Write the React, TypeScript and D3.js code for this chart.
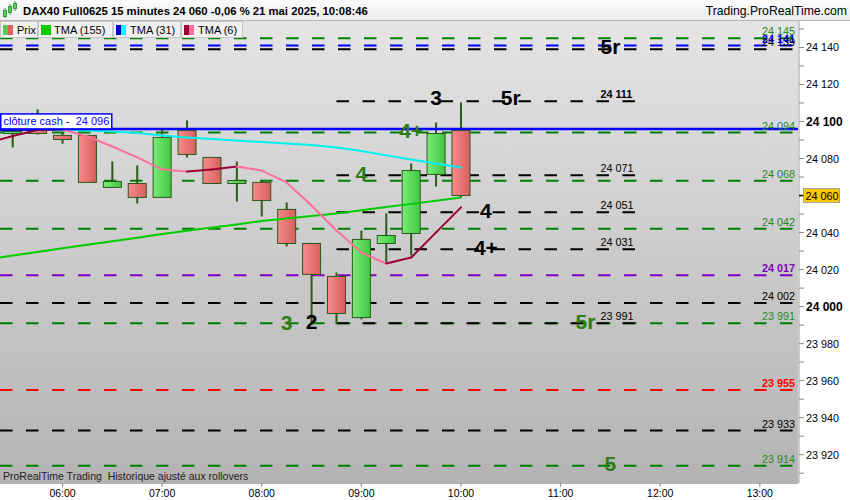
import React from "react";
import * as d3 from "d3";

// ---------- DATA ----------
const candleTimes = ["05:30","05:45","06:00","06:15","06:30","06:45","07:00","07:15","07:30","07:45","08:00","08:15","08:30","08:45","09:00","09:15","09:30","09:45","10:00"];
const opens  = [24093.5,24095.2,24092.5,24092.5,24064.4,24066.5,24059.0,24095.2,24080.6,24066.5,24067.1,24052.5,24034.1,24016.3,23994.1,24034.1,24039.5,24071.4,24095.2];
const highs  = [24096.2,24106.5,24094.0,24092.5,24078.4,24076.3,24096.0,24100.6,24080.6,24078.4,24068.5,24056.3,24034.1,24018.4,24041.1,24050.3,24077.3,24099.5,24110.3];
const lows   = [24086.0,24093.0,24088.0,24067.0,24064.4,24055.7,24059.0,24080.6,24066.5,24056.8,24048.7,24032.5,23990.4,23990.4,23993.1,24023.3,24027.6,24064.9,24059.0];
const closes = [24094.6,24093.5,24090.3,24067.1,24067.6,24059.0,24091.4,24082.2,24066.5,24068.1,24057.3,24034.1,24017.4,23996.3,24036.3,24038.4,24073.5,24093.5,24060.0];

const maTimes = ["05:15", ...candleTimes];
const tma155 = [24025.6,24027.6,24029.5,24031.5,24033.4,24035.3,24037.2,24039.2,24041.0,24042.7,24044.4,24046.2,24047.6,24048.9,24050.3,24052.0,24053.8,24055.5,24057.2,24059.0];
const tma31  = [24095.2,24095.4,24095.5,24095.4,24095.2,24094.6,24093.8,24092.5,24091.4,24090.6,24089.8,24088.9,24088.1,24087.3,24086.0,24084.1,24081.7,24079.5,24077.3,24075.2];
const tma6   = [24088.4,24092.2,24095.4,24095.7,24091.9,24086.5,24080.6,24074.1,24073.0,24074.1,24075.7,24073.5,24067.1,24054.6,24041.1,24029.2,24023.3,24026.5,24040.1,24053.6];

const levelPrices = [24145, 24141, 24139, 24094, 24068, 24042, 24017, 24002, 23991, 23955, 23933, 23914];
const levelKinds  = ["green","blue","black","green","green","green","purple","black","green","red","black","green"];

const shortPrices = [24111, 24071, 24051, 24031, 23991];
const shortStart = "08:45";
const shortEnd = "11:48";
const shortLabelTime = "11:24";

const clotureCash = 24096;
const lastPrice = 24060;

const annTexts  = ["5r","3","5r","4+","4","4","4+","3","2","5r","5"];
const annTimes  = ["11:30","09:45","10:30","09:30","09:00","10:15","10:15","08:15","08:30","11:15","11:30"];
const annPrices = [24140.5,24113,24113,24095,24072,24052,24032,23991.5,23992,23992,23915];
const annKinds  = ["black","black","black","green","green","black","black","green","black","green","green"];

const hourTicks = ["06:00","07:00","08:00","09:00","10:00","11:00","12:00","13:00"];

const titleText = "DAX40 Full0625 15 minutes 24 060 -0,06 % 21 mai 2025, 10:08:46";
const siteText = "Trading.ProRealTime.com";
const footerText = "ProRealTime Trading  Historique ajusté aux rollovers";
const legendNames = ["Prix", "TMA (155)", "TMA (31)", "TMA (6)"];

// ---------- helpers ----------
const tt = (s: string) => {
  const p = s.split(":").map(Number);
  return new Date(2025, 4, 21, p[0], p[1], p[2] || 0);
};
const fmt = (v: number) => d3.format(",")(Math.round(v)).replace(/,/g, " ");

const lineColors: Record<string, string> = {
  green: "#008000", blue: "#0000ff", black: "#000000", purple: "#8000c8", red: "#ff0000",
};
const labelColors: Record<string, string> = {
  green: "#1e8a1e", blue: "#0000ff", black: "#000000", purple: "#7a00c0", red: "#ff0000",
};
const labelBold: Record<string, boolean> = {
  green: false, blue: true, black: false, purple: true, red: true,
};
const annColors: Record<string, string> = { green: "#2e7d14", black: "#000000" };

const FONT = "'Liberation Sans', Arial, sans-serif";

export default function App() {
  const W = 850, H = 500;
  const plotL = 0, plotR = 798, plotT = 21, plotB = 483;
  const x = d3.scaleTime().domain([tt("05:22:20"), tt("13:23:00")]).range([plotL, plotR]);
  const y = d3.scaleLinear().domain([23904.7, 24154.3]).range([plotB, plotT]);
  const cw = 18;

  const maSegments = (vals: number[], up: string, down: string) => {
    const segs: { d: string; c: string }[] = [];
    const ln = d3.line<[number, number]>().x(d => d[0]).y(d => d[1]);
    for (let i = 0; i < vals.length - 1; i++) {
      const a: [number, number] = [x(tt(maTimes[i])), y(vals[i])];
      const b: [number, number] = [x(tt(maTimes[i + 1])), y(vals[i + 1])];
      segs.push({ d: ln([a, b]) || "", c: vals[i + 1] >= vals[i] ? up : down });
    }
    return segs;
  };
  const tma155Path = d3.line<number>().x((_, i) => x(tt(maTimes[i]))).y(v => y(v))(tma155) || "";
  const seg31 = maSegments(tma31, "#0000e0", "#00f0f0");
  const seg6 = maSegments(tma6, "#99003a", "#ff6f9c");

  const axisTicks = d3.range(23910, 24151, 10);

  return (
    <div style={{ position: "fixed", left: 0, top: 0 }}>
      <svg width={W} height={H} style={{ display: "block", fontFamily: FONT }}>
        <defs>
          <linearGradient id="bg" x1="0" y1="0" x2="0" y2="1">
            <stop offset="0" stopColor="#e4e4e4" />
            <stop offset="1" stopColor="#b3b3b3" />
          </linearGradient>
          <linearGradient id="gUp" x1="0" y1="0" x2="1" y2="0">
            <stop offset="0" stopColor="#7aeb7a" />
            <stop offset="1" stopColor="#40c840" />
          </linearGradient>
          <linearGradient id="gDn" x1="0" y1="0" x2="1" y2="0">
            <stop offset="0" stopColor="#f78a8a" />
            <stop offset="1" stopColor="#d85f5f" />
          </linearGradient>
          <linearGradient id="hdr" x1="0" y1="0" x2="0" y2="1">
            <stop offset="0" stopColor="#fbfbfb" />
            <stop offset="1" stopColor="#ececec" />
          </linearGradient>
          <clipPath id="plotClip">
            <rect x={plotL} y={plotT} width={plotR - plotL} height={plotB - plotT} />
          </clipPath>
        </defs>

        <rect x={0} y={0} width={W} height={H} fill="#ffffff" />
        <rect x={plotL} y={plotT} width={plotR - plotL} height={plotB - plotT} fill="url(#bg)" />

        <g clipPath="url(#plotClip)">
          {/* full width levels */}
          {levelPrices.map((p, i) => (
            <line key={"lv" + i} x1={plotL} x2={plotR} y1={y(p)} y2={y(p)}
              stroke={lineColors[levelKinds[i]]} strokeWidth={2} strokeDasharray="12.5 13.5" />
          ))}
          {/* short black levels */}
          {shortPrices.map((p, i) => (
            <line key={"sl" + i} x1={x(tt(shortStart))} x2={x(tt(shortEnd))} y1={y(p)} y2={y(p)}
              stroke="#000" strokeWidth={2} strokeDasharray="12.5 13.5" />
          ))}

          {/* candles */}
          {candleTimes.map((t, i) => {
            const cx = x(tt(t));
            const up = closes[i] >= opens[i];
            const top = y(Math.max(opens[i], closes[i]));
            const bot = y(Math.min(opens[i], closes[i]));
            return (
              <g key={"c" + i}>
                <line x1={cx} x2={cx} y1={y(highs[i])} y2={y(lows[i])} stroke="#2c5a18" strokeWidth={2} />
                <rect x={cx - cw / 2} y={top} width={cw} height={Math.max(bot - top, 1)}
                  fill={up ? "url(#gUp)" : "url(#gDn)"} stroke="#2c5a18" strokeWidth={1} />
              </g>
            );
          })}

          {/* moving averages */}
          <path d={tma155Path} fill="none" stroke="#00cc00" strokeWidth={2} />
          {seg31.map((s, i) => <path key={"m31" + i} d={s.d} stroke={s.c} strokeWidth={2} fill="none" strokeLinecap="round" />)}
          {seg6.map((s, i) => <path key={"m6" + i} d={s.d} stroke={s.c} strokeWidth={2} fill="none" strokeLinecap="round" />)}

          {/* cloture cash */}
          <line x1={plotL} x2={plotR} y1={y(clotureCash)} y2={y(clotureCash)} stroke="#0000ff" strokeWidth={2.5} />

          {/* level labels on right */}
          {levelPrices.map((p, i) => (
            <text key={"lt" + i} x={795} y={y(p) - 3} textAnchor="end" fontSize={10.8}
              fill={labelColors[levelKinds[i]]} fontWeight={labelBold[levelKinds[i]] ? "bold" : "normal"}>
              {fmt(p)}
            </text>
          ))}
          {/* short level labels */}
          {shortPrices.map((p, i) => (
            <text key={"st" + i} x={x(tt(shortLabelTime))} y={y(p) - 3.5} fontSize={10.8}
              fill="#000" fontWeight={i === 0 ? "bold" : "normal"}>
              {fmt(p)}
            </text>
          ))}

          {/* annotations */}
          {annTexts.map((s, i) => (
            <text key={"an" + i} x={x(tt(annTimes[i]))} y={y(annPrices[i]) + 7.5} textAnchor="middle"
              fontSize={21} fontWeight="bold" fill={annColors[annKinds[i]]}>
              {s}
            </text>
          ))}

          {/* cloture cash label */}
          <rect x={0.75} y={y(clotureCash) - 15} width={111} height={15} fill="#ffffff" stroke="#0000ff" strokeWidth={1.5} />
          <text x={3.5} y={y(clotureCash) - 3.5} fontSize={11} fill="#0000ff" style={{ whiteSpace: "pre" }}>
            {"clôture cash -  " + fmt(clotureCash)}
          </text>

          <text x={3} y={480} fontSize={10.5} fill="#222" style={{ whiteSpace: "pre" }}>{footerText}</text>
        </g>

        {/* right axis */}
        <line x1={799} x2={799} y1={plotT} y2={plotB} stroke="#9a9a9a" strokeWidth={1} />
        {axisTicks.map(v => (
          <g key={"at" + v}>
            <line x1={799} x2={804} y1={y(v)} y2={y(v)} stroke="#8a8a8a" strokeWidth={1} />
            {v % 20 === 0 && (
              <text x={806} y={y(v) + 4} fontSize={v % 100 === 0 ? 12 : 10.8}
                fontWeight={v % 100 === 0 ? "bold" : "normal"} fill="#000">
                {fmt(v)}
              </text>
            )}
          </g>
        ))}
        <line x1={799} x2={803} y1={y(lastPrice)} y2={y(lastPrice)} stroke="#000" strokeWidth={1.5} />
        <rect x={803.5} y={y(lastPrice) - 7} width={36} height={14} fill="#ffc800" stroke="#a0a0a0" strokeWidth={1} />
        <text x={805.5} y={y(lastPrice) + 4} fontSize={10.8} fill="#000">{fmt(lastPrice)}</text>

        {/* bottom axis */}
        <line x1={plotL} x2={plotR} y1={plotB + 0.5} y2={plotB + 0.5} stroke="#b0b0b0" strokeWidth={1} />
        {hourTicks.map(h => (
          <g key={"h" + h}>
            <line x1={x(tt(h))} x2={x(tt(h))} y1={plotB} y2={plotB + 4} stroke="#8a8a8a" strokeWidth={1} />
            <text x={x(tt(h))} y={497} textAnchor="middle" fontSize={10.5} fill="#000">{h}</text>
          </g>
        ))}

        {/* header */}
        <rect x={0} y={0} width={W} height={21} fill="url(#hdr)" />
        <line x1={0} x2={W} y1={20.5} y2={20.5} stroke="#b8b8b8" strokeWidth={1} />
        <g>
          <line x1={5} x2={5} y1={8} y2={18} stroke="#3a9a3a" strokeWidth={1} />
          <rect x={3.5} y={10.5} width={3} height={6} fill="#5ad05a" stroke="#3a9a3a" strokeWidth={1} />
          <line x1={10} x2={10} y1={4} y2={15} stroke="#3a9a3a" strokeWidth={1} />
          <rect x={8.5} y={6.5} width={3} height={6} fill="#5ad05a" stroke="#3a9a3a" strokeWidth={1} />
          <line x1={15} x2={15} y1={1} y2={11} stroke="#3a9a3a" strokeWidth={1} />
          <rect x={13.5} y={3.5} width={3} height={5} fill="#5ad05a" stroke="#3a9a3a" strokeWidth={1} />
        </g>
        <text x={23} y={15} fontSize={11.3} fontWeight="bold" fill="#000">{titleText}</text>
        <text x={847} y={15} fontSize={12.2} textAnchor="end" fill="#000">{siteText}</text>

        {/* legend */}
        {(() => {
          const boxes = [[0, 37], [38, 112], [113, 180], [181, 242]];
          const sw: string[][] = [["#55cc55", "#e06060"], ["#00cc00", "#00cc00"], ["#0000cc", "#00ffff"], ["#990033", "#ff6f9c"]];
          const textX = [17, 54, 130, 198];
          return legendNames.map((n, i) => (
            <g key={"lg" + i}>
              <rect x={boxes[i][0] + 0.5} y={21.5} width={boxes[i][1] - boxes[i][0]} height={16} fill="#f0f0f0" stroke="#c6c6c6" strokeWidth={1} />
              <rect x={boxes[i][0] + 3} y={25} width={5} height={10} fill={sw[i][0]} />
              <rect x={boxes[i][0] + 8} y={25} width={5} height={10} fill={sw[i][1]} />
              <text x={textX[i]} y={34} fontSize={11} fill="#000">{n}</text>
            </g>
          ));
        })()}
      </svg>
    </div>
  );
}
